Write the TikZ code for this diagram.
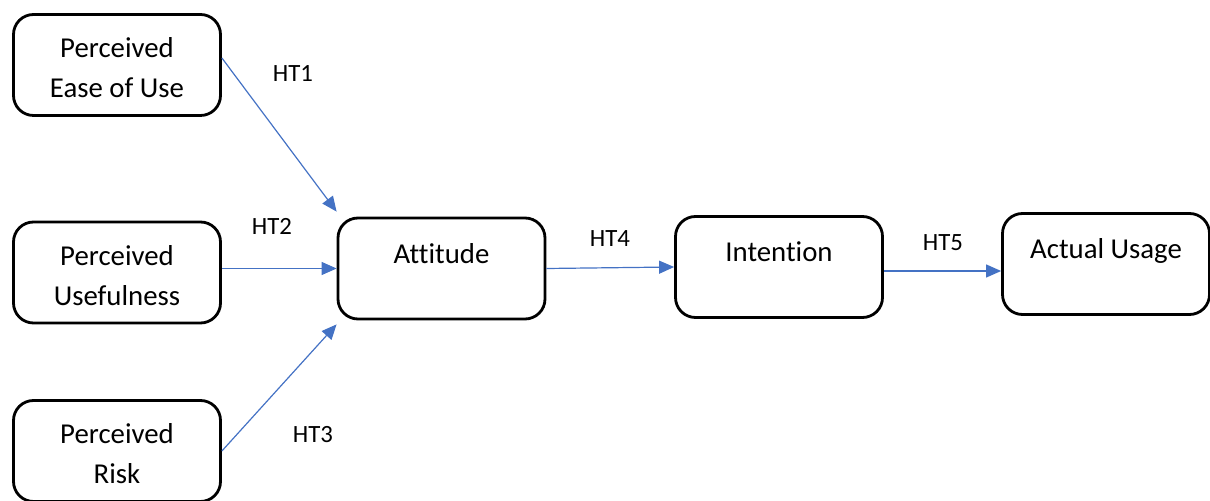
\documentclass[tikz,border=0pt]{standalone}
\usepackage{fontspec}
\setmainfont{Carlito}[Ligatures=CommonOff]
\usetikzlibrary{arrows.meta}
\definecolor{linkblue}{HTML}{4472C4}

\begin{document}
\begin{tikzpicture}[x=0.5pt, y=-0.5pt, box/.style={draw, rectangle, rounded corners=10pt, line width=1.4pt, minimum width=103.5pt, minimum height=50.5pt, align=center, text height=33pt, font=\fontsize{14.4}{20}\selectfont}, one/.style={text height=13pt, text depth=18pt}, arr/.style={-{Triangle[length=7.5pt, width=6.5pt]}, draw=linkblue, line width=0.6pt}, ht/.style={font=\fontsize{12.4}{15}\selectfont}]
                \useasboundingbox (0,0) rectangle (1210,501);
                % nodes
                \node[box] (peou) at (117,65) {Perceived\\Ease of Use};
                \node[box] (pu) at (117,272.5) {Perceived\\Usefulness};
                \node[box] (pr) at (117,451) {Perceived\\Risk};
                \node[box, one] (att) at (441.5,268.5) {Attitude};
                \node[box, one] (int) at (779,267) {Intention};
                \node[box, one] (use) at (1106,264) {Actual Usage};
                % labels
                \node[ht] (ht1) at (293,74) {HT1};
                \node[ht] (ht2) at (272,226) {HT2};
                \node[ht] (ht3) at (313,435) {HT3};
                \node[ht] (ht4) at (610,239) {HT4};
                \node[ht] (ht5) at (943,243) {HT5};
                % edges
                \draw [arr] ([yshift=3.5pt]peou.east) -- ([yshift=2.5pt]att.north west);
                \draw [arr] (att.west -| pu.east) -- (att.west);
                \draw [arr] (pr.east) -- ([yshift=-2pt]att.south west);
                \draw [arr] (att.east) -- (int.west);
                \draw [arr] ([yshift=-2pt]int.east) -- ([yshift=-2pt]int.east -| use.west);
            \end{tikzpicture}
\end{document}
